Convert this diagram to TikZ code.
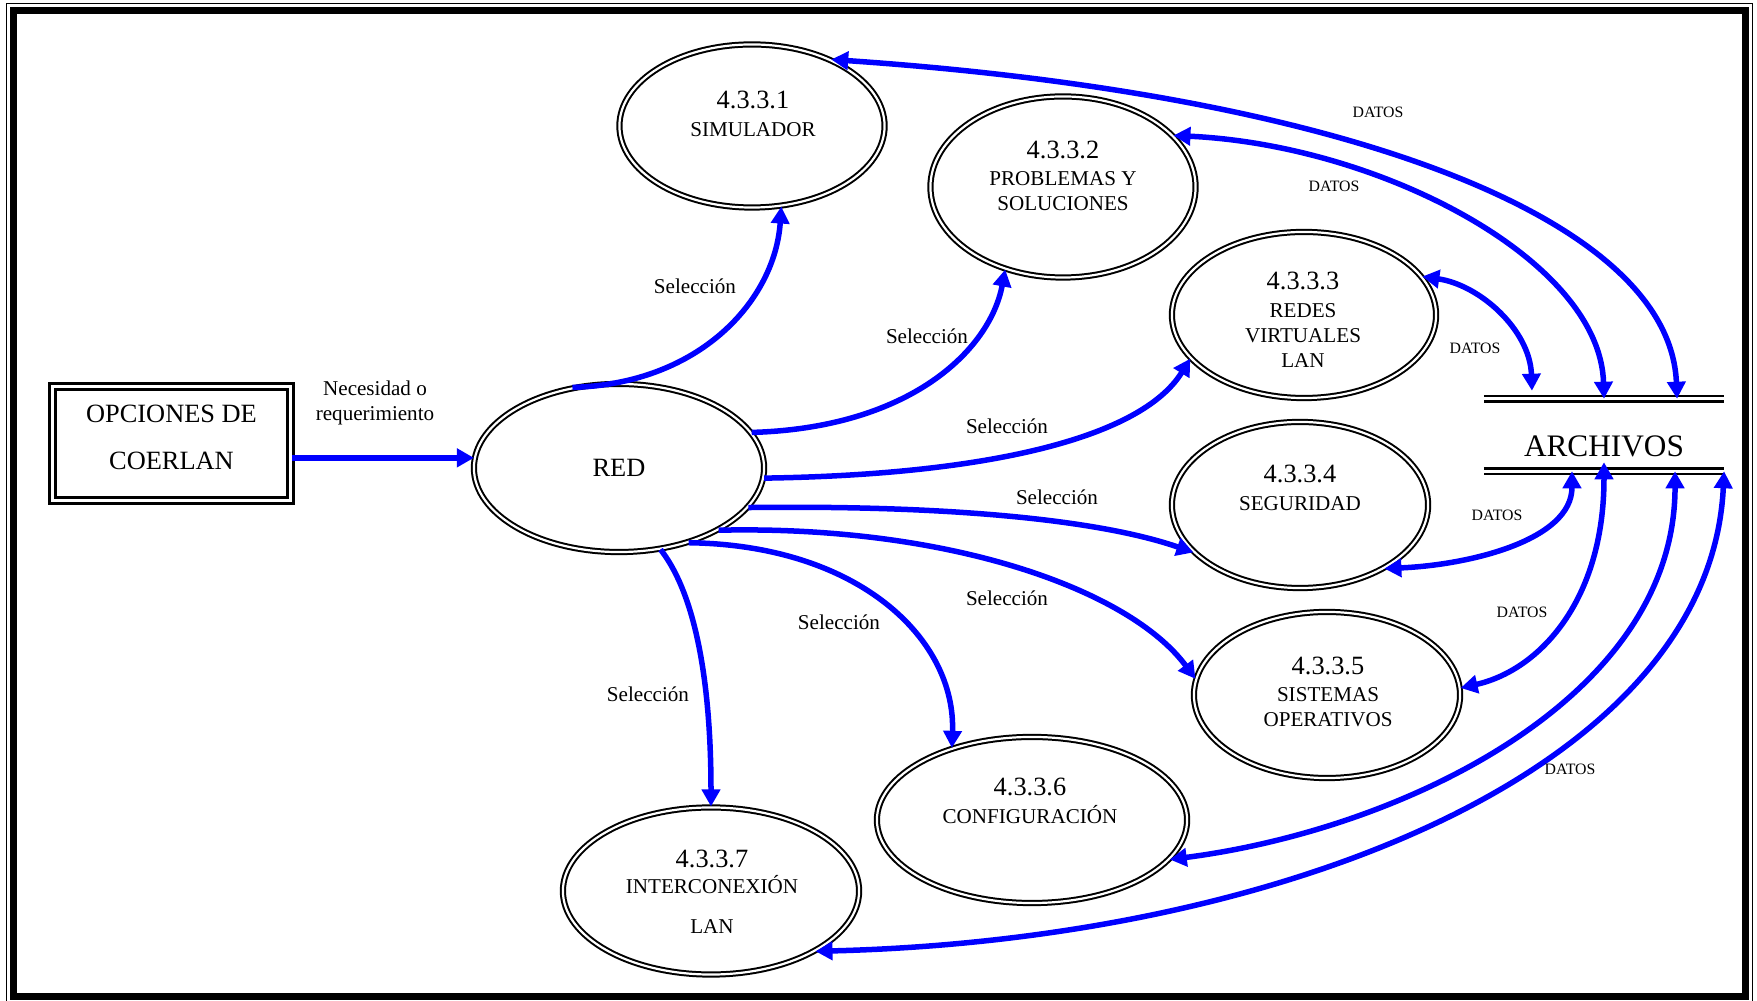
\documentclass[tikz,border=0pt]{standalone}
\usepackage{fontspec}
\setmainfont{Liberation Serif}
\usetikzlibrary{arrows.meta,shapes.geometric}
\definecolor{flujo}{RGB}{0,0,255}
\newcommand{\procnum}{\fontsize{7.5}{9}\selectfont}

\begin{document}
\begin{tikzpicture}[x=0.01cm, y=-0.01cm,
  proc/.style={shape=ellipse, draw=black, double=white, line width=0.02cm, double distance=0.022cm, inner sep=0pt},
  ent/.style={shape=rectangle, draw=black, double=white, line width=0.03cm, double distance=0.035cm},
  storeline/.style={draw=black, double=white, line width=0.025cm, double distance=0.03cm},
  flow/.style={-{Triangle[length=0.17cm,width=0.18cm]}, draw=flujo, line width=0.055cm},
  datos/.style={{Triangle[length=0.17cm,width=0.18cm]}-{Triangle[length=0.17cm,width=0.18cm]}, draw=flujo, line width=0.055cm},
  txt/.style={align=center, inner sep=0pt, font=\fontsize{6}{7.2}\selectfont},
  sel/.style={inner sep=0pt, font=\fontsize{6}{7.3}\selectfont},
  dat/.style={inner sep=0pt, font=\fontsize{4.5}{5.4}\selectfont}]
\useasboundingbox (0,0) rectangle (1757,1001);
% marco
\draw[line width=0.015cm] (6.5,3.5) rectangle (1752.5,1004);
\draw[line width=0.07cm] (13.5,11) rectangle (1745.5,996.5);

% entidad y almacen
\node[ent, minimum width=2.38cm, minimum height=1.14cm] (opciones) at (171.5,443.5) {};
\node[align=center, inner sep=0pt, font=\fontsize{7.5}{13.4}\selectfont] (optxt) at (171.5,437) {OPCIONES DE\\COERLAN};
\node[inner sep=0pt, outer sep=0pt, minimum width=2.40cm, minimum height=0.725cm, text height=0.42cm, text depth=0pt, font=\fontsize{8.9}{10}\selectfont] (archivos) at (1604,435) {ARCHIVOS};
\draw[storeline] (archivos.north west) -- (archivos.north east);
\draw[storeline] (archivos.south west) -- (archivos.south east);

% procesos
\node[proc, minimum width=2.90cm, minimum height=1.68cm, font=\procnum] (red) at (619,468) {RED};
\node[proc, minimum width=2.65cm, minimum height=1.63cm] (p1) at (752,126) {};
\node[proc, minimum width=2.65cm, minimum height=1.81cm] (p2) at (1063,187) {};
\node[proc, minimum width=2.64cm, minimum height=1.66cm] (p3) at (1304,315) {};
\node[proc, minimum width=2.56cm, minimum height=1.66cm] (p4) at (1300,505) {};
\node[proc, minimum width=2.66cm, minimum height=1.66cm] (p5) at (1327,695) {};
\node[proc, minimum width=3.10cm, minimum height=1.66cm] (p6) at (1032,820) {};
\node[proc, minimum width=2.96cm, minimum height=1.67cm] (p7) at (711,891) {};

\node[txt] (t1) at (753,114) {{\procnum 4.3.3.1}\\[0.02cm]SIMULADOR};
\node[txt] (t2) at (1063,176) {{\procnum 4.3.3.2}\\[0.02cm]PROBLEMAS Y\\SOLUCIONES};
\node[txt] (t3) at (1303,320) {{\procnum 4.3.3.3}\\[0.02cm]REDES\\VIRTUALES\\LAN};
\node[txt] (t4) at (1300,488) {{\procnum 4.3.3.4}\\[0.02cm]SEGURIDAD};
\node[txt] (t5) at (1328,692) {{\procnum 4.3.3.5}\\[0.02cm]SISTEMAS\\OPERATIVOS};
\node[txt] (t6) at (1030,801) {{\procnum 4.3.3.6}\\[0.02cm]CONFIGURACIÓN};
\node[txt] (t7) at (712,892) {{\procnum 4.3.3.7}\\INTERCONEXIÓN\\[0.15cm]LAN};

% flujos de seleccion
\draw[flow] (opciones.east |- red.176) -- (red.176);
\node[sel, align=center] (nec) at (375,403) {Necesidad o\\requerimiento};
\draw[flow] (red.120) .. controls (700,384) and (775,300) .. (p1.-70);
\draw[flow] (red.15) .. controls (910,428) and (990,350) .. (p2.-125);
\draw[flow] (red.-4) .. controls (980,475) and (1140,440) .. (p3.-159);
\draw[flow] (red.-17) .. controls (950,505) and (1100,520) .. (p4.-156);
\draw[flow] (red.-32) .. controls (950,525) and (1130,590) .. (p5.173);
\draw[flow] (red.-47) .. controls (860,545) and (956,640) .. (p6.138);
\draw[flow] (red.-63) .. controls (700,600) and (711,700) .. (p7.90);
\node[sel] (s1) at (695,286) {Selección};
\node[sel] (s2) at (927,336) {Selección};
\node[sel] (s3) at (1007,426) {Selección};
\node[sel] (s4) at (1057,497) {Selección};
\node[sel] (s5) at (1007,598) {Selección};
\node[sel] (s6) at (839,622) {Selección};
\node[sel] (s7) at (648,694) {Selección};

% flujos de datos
\draw[datos] (p1.40) .. controls (1350,95) and (1670,220) .. ([xshift=0.73cm]archivos.north);
\draw[datos] (p2.25) .. controls (1380,145) and (1600,260) .. (archivos.north);
\draw[datos] (p3.18) .. controls (1480,285) and (1530,330) .. ([xshift=-0.72cm,yshift=0.08cm]archivos.north);
\draw[datos] (p4.-37) .. controls (1470,565) and (1572,540) .. ([xshift=-0.32cm]archivos.south);
\draw[datos] (p5.3) .. controls (1540,670) and (1604,600) .. ([yshift=0.09cm]archivos.south);
\draw[datos] (p6.-16) .. controls (1400,830) and (1675,700) .. ([xshift=0.71cm]archivos.south);
\draw[datos] (p7.-30) .. controls (1280,940) and (1710,770) .. (archivos.south east);
\node[dat] (d1) at (1378,112) {DATOS};
\node[dat] (d2) at (1334,186) {DATOS};
\node[dat] (d3) at (1475,348) {DATOS};
\node[dat] (d4) at (1497,515) {DATOS};
\node[dat] (d5) at (1522,612) {DATOS};
\node[dat] (d6) at (1570,769) {DATOS};
\end{tikzpicture}
\end{document}
